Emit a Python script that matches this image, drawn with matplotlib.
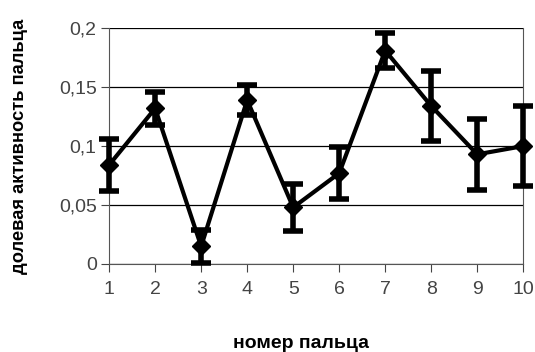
import matplotlib.pyplot as plt
from matplotlib.ticker import FuncFormatter

# номер пальца и долевая активность
finger = [1, 2, 3, 4, 5, 6, 7, 8, 9, 10]
activity = [0.084, 0.132, 0.015, 0.139, 0.048, 0.077, 0.181, 0.134, 0.093, 0.100]
error = [0.022, 0.014, 0.014, 0.013, 0.020, 0.022, 0.015, 0.030, 0.030, 0.034]

plt.rcParams['font.family'] = ['Liberation Sans', 'DejaVu Sans']

fig = plt.figure(figsize=(5.35, 3.52), dpi=100)
ax = fig.add_axes([0.204, 0.25, 0.774, 0.67])

ax.errorbar(finger, activity, yerr=error, color='black', linewidth=3,
            marker='D', markersize=9, elinewidth=4, capsize=7, capthick=4,
            clip_on=False, zorder=3)

ax.set_xlim(1, 10)
ax.set_ylim(0, 0.2)
ax.set_xticks(finger)
ax.set_yticks([0, 0.05, 0.1, 0.15, 0.2])
ax.yaxis.set_major_formatter(FuncFormatter(lambda v, p: ('%g' % round(v, 2)).replace('.', ',')))
ax.grid(True, axis='y', color='black', linewidth=0.9)
ax.set_axisbelow(True)

for s in ['left', 'right', 'bottom']:
    ax.spines[s].set_color('#555555')
ax.spines['top'].set_visible(False)
ax.tick_params(axis='both', labelsize=14, colors='#444444', length=6, direction='out')
ax.tick_params(axis='x', pad=6)
ax.tick_params(axis='y', pad=3)

ax.set_xlabel('номер пальца', fontsize=14, fontweight='bold')
ax.xaxis.set_label_coords(0.464, -0.303)
ax.set_ylabel('долевая активность пальца', fontsize=13.2, fontweight='bold')
ax.yaxis.set_label_coords(-0.195, 0.5)

fig.savefig('out.png', dpi=100)
